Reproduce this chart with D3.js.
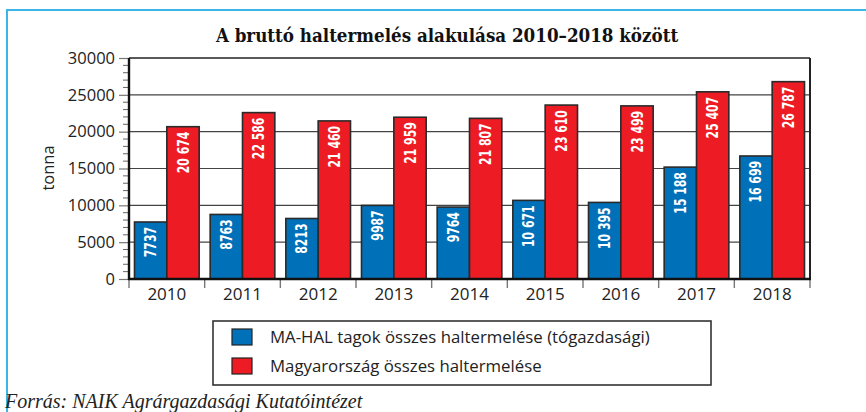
<!DOCTYPE html>
<html><head><meta charset="utf-8">
<script src="https://cdn.jsdelivr.net/npm/d3@7"></script>
<style>body{margin:0;background:#fff}svg{display:block}</style>
</head><body>
<svg id="c" width="866" height="412"></svg>
<script>
const years = ["2010","2011","2012","2013","2014","2015","2016","2017","2018"];
const mahal = [7737, 8763, 8213, 9987, 9764, 10671, 10395, 15188, 16699];
const hungary = [20674, 22586, 21460, 21959, 21807, 23610, 23499, 25407, 26787];
const seriesNames = ["MA-HAL tagok összes haltermelése (tógazdasági)", "Magyarország összes haltermelése"];
const seriesColors = ["#0070b9", "#ed1c24"];
const yTicks = [0, 5000, 10000, 15000, 20000, 25000, 30000];
const titleText = "A bruttó haltermelés alakulása 2010–2018 között";
const yLabel = "tonna";
const sourceText = "Forrás: NAIK Agrárgazdasági Kutatóintézet";

const fmt = v => { const s = String(v); return s.length > 4 ? s.slice(0, s.length-3) + " " + s.slice(-3) : s; };

const svg = d3.select("#c");
const L = 129, R = 810, T = 58, B = 279;
const SANS = "'Open Sans','Noto Sans',sans-serif";

// outer frame
svg.append("line").attr("x1",7).attr("x2",866).attr("y1",10).attr("y2",10).attr("stroke","#3cb6e6").attr("stroke-width",2);
svg.append("line").attr("x1",7).attr("x2",7).attr("y1",9).attr("y2",412).attr("stroke","#3cb6e6").attr("stroke-width",2);

// title
svg.append("text").attr("x",447).attr("y",42).attr("text-anchor","middle")
  .attr("font-family","'DejaVu Serif Condensed','DejaVu Serif',serif").attr("font-weight","bold")
  .attr("font-size",18.6).attr("fill","#111").text(titleText);

const x0 = d3.scaleBand().domain(years).range([L, R]).paddingInner(0).paddingOuter(0);
const x1 = d3.scaleBand().domain([0,1]).range([0, x0.bandwidth()]).paddingInner(0).paddingOuter(0.17);
const y = d3.scaleLinear().domain([0, 30000]).range([B, T]);

// gridlines
svg.append("g").selectAll("line").data(yTicks.filter(d=>d>0 && d<30000)).join("line")
  .attr("x1",L).attr("x2",R).attr("y1",d=>y(d)).attr("y2",d=>y(d))
  .attr("stroke","#444").attr("stroke-width",1.2);

// minor ticks
const minor = d3.range(1000, 30000, 1000).filter(d => d % 5000 !== 0);
svg.append("g").selectAll("line").data(minor).join("line")
  .attr("x1",L-6).attr("x2",L).attr("y1",d=>y(d)).attr("y2",d=>y(d))
  .attr("stroke","#666").attr("stroke-width",1);

// y axis
const yAxis = svg.append("g").attr("transform",`translate(${L},0)`)
  .call(d3.axisLeft(y).tickValues(yTicks).tickSize(10).tickPadding(4).tickFormat(d3.format("d")));
yAxis.select(".domain").remove();
yAxis.selectAll(".tick line").attr("stroke","#777").attr("stroke-width",1.2);
yAxis.selectAll(".tick text").attr("font-family",SANS).attr("font-size",16.5).attr("fill","#222");

// bars
const groups = svg.append("g").selectAll("g").data(years).join("g")
  .attr("transform", d => `translate(${x0(d)},0)`);
[mahal, hungary].forEach((arr, si) => {
  groups.append("rect")
    .attr("x", x1(si)).attr("width", x1.bandwidth())
    .attr("y", (d,i) => y(arr[i])).attr("height", (d,i) => B - y(arr[i]))
    .attr("fill", seriesColors[si]).attr("stroke","#2a2a2a").attr("stroke-width",1.6);
  groups.append("text")
    .attr("transform", (d,i) => `translate(${x1(si) + x1.bandwidth()/2 + 5.5},${y(arr[i]) + 5}) rotate(-90) scale(0.78,1)`)
    .attr("text-anchor","end")
    .attr("font-family","'DejaVu Sans Condensed','DejaVu Sans',sans-serif").attr("font-weight","bold")
    .attr("font-size",15.5).attr("fill","#fff")
    .text((d,i) => fmt(arr[i]));
});

// plot frame top and right
svg.append("line").attr("x1",L).attr("x2",R).attr("y1",T).attr("y2",T).attr("stroke","#222").attr("stroke-width",1.6);
svg.append("line").attr("x1",R).attr("x2",R).attr("y1",T).attr("y2",B).attr("stroke","#222").attr("stroke-width",2);
svg.append("line").attr("x1",L).attr("x2",L).attr("y1",T).attr("y2",B+1).attr("stroke","#111").attr("stroke-width",2.4);

// x axis
const xAxis = svg.append("g").attr("transform",`translate(0,${B})`)
  .call(d3.axisBottom(x0).tickSize(0).tickPadding(9));
xAxis.select(".domain").remove();
xAxis.selectAll(".tick text").attr("font-family",SANS).attr("font-size",17).attr("fill","#222");
const bounds = years.map(d => x0(d)).concat([R]);
svg.append("g").selectAll("line").data(bounds).join("line")
  .attr("x1",d=>d).attr("x2",d=>d).attr("y1",B).attr("y2",B+9)
  .attr("stroke","#777").attr("stroke-width",1.4);
svg.append("line").attr("x1",L-1).attr("x2",R+1).attr("y1",B).attr("y2",B).attr("stroke","#111").attr("stroke-width",2.4);

// y label
svg.append("text").attr("transform","translate(54,168) rotate(-90)").attr("text-anchor","middle")
  .attr("font-family",SANS).attr("font-size",16.5).attr("fill","#222").text(yLabel);

// legend
svg.append("rect").attr("x",213).attr("y",321).attr("width",498).attr("height",64)
  .attr("fill","none").attr("stroke","#333").attr("stroke-width",1.6);
const lg = svg.append("g").selectAll("g").data(seriesNames).join("g")
  .attr("transform",(d,i)=>`translate(232,${329 + i*29})`);
lg.append("rect").attr("width",20).attr("height",16).attr("fill",(d,i)=>seriesColors[i]).attr("stroke","#222").attr("stroke-width",1.2);
lg.append("text").attr("x",38).attr("y",14).attr("font-family",SANS).attr("font-size",16.8).attr("fill","#222").text(d=>d);

// source
svg.append("text").attr("x",5).attr("y",408).attr("font-family","'Liberation Serif','DejaVu Serif',serif")
  .attr("font-style","italic").attr("font-size",20).attr("fill","#222").text(sourceText);
</script>
</body></html>
